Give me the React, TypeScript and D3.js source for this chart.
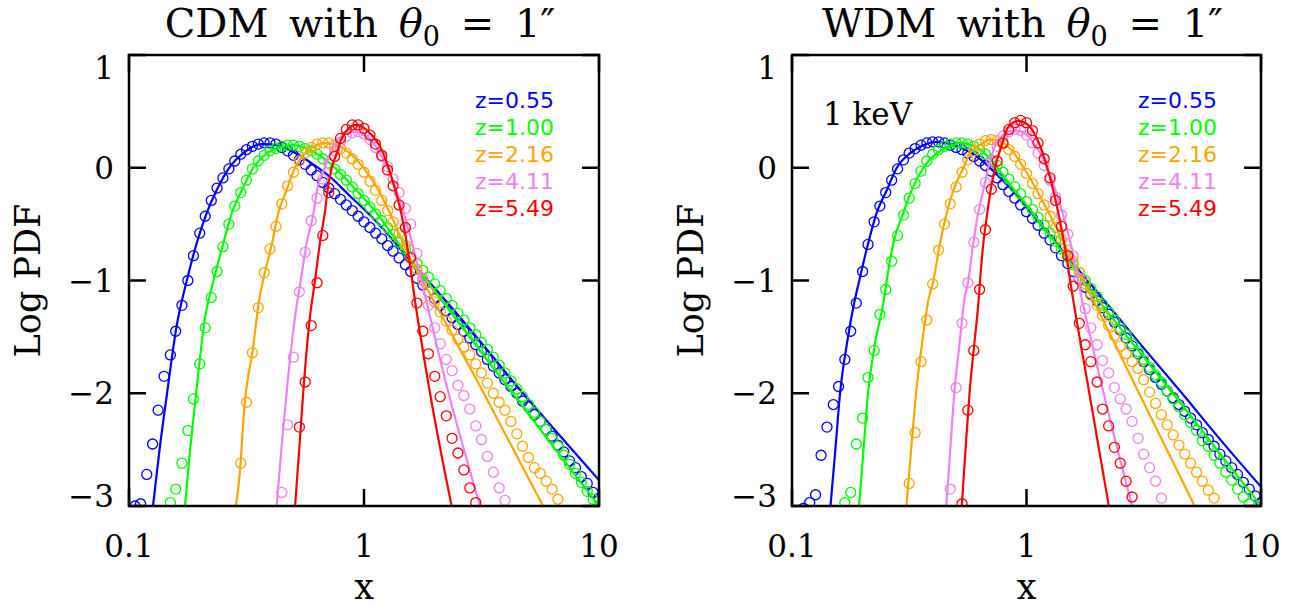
import React from 'react';
import * as d3 from 'd3';

// ---------- shared grid of x positions for the measured points ----------
const circleX = [0.1, 0.106, 0.112, 0.119, 0.126, 0.133, 0.141, 0.15, 0.158, 0.168, 0.178, 0.188, 0.2, 0.211, 0.224, 0.237, 0.251, 0.266, 0.282, 0.299, 0.316, 0.335, 0.355, 0.376, 0.398, 0.422, 0.447, 0.473, 0.501, 0.531, 0.562, 0.596, 0.631, 0.668, 0.708, 0.75, 0.794, 0.841, 0.891, 0.944, 1.0, 1.06, 1.12, 1.19, 1.26, 1.33, 1.41, 1.5, 1.58, 1.68, 1.78, 1.88, 2.0, 2.11, 2.24, 2.37, 2.51, 2.66, 2.82, 2.99, 3.16, 3.35, 3.55, 3.76, 3.98, 4.22, 4.47, 4.73, 5.01, 5.31, 5.62, 5.96, 6.31, 6.68, 7.08, 7.5, 7.94, 8.41, 8.91, 9.44, 10.0];

const zLabels = ['z=0.55', 'z=1.00', 'z=2.16', 'z=4.11', 'z=5.49'];
const seriesColors = ['#0000ff', '#00ff00', '#ffa500', '#ee82ee', '#ff0000'];
const xTicks = [0.1, 1, 10];
const xTickLabels = ['0.1', '1', '10'];
const yTicks = [1, 0, -1, -2, -3];
const yTickLabels = ['1', '0', '\u22121', '\u22122', '\u22123'];

// ---------- CDM: measured points (first = index into circleX) ----------
const cdmDots055 = { first: 1, y: [-3.0, -2.98, -2.72, -2.45, -2.15, -1.85, -1.66, -1.45, -1.22, -1.0, -0.78, -0.58, -0.43, -0.29, -0.18, -0.09, -0.01, 0.06, 0.12, 0.16, 0.19, 0.21, 0.22, 0.22, 0.21, 0.18, 0.15, 0.11, 0.07, 0.03, -0.02, -0.07, -0.13, -0.18, -0.23, -0.28, -0.33, -0.38, -0.43, -0.48, -0.53, -0.58, -0.63, -0.69, -0.74, -0.8, -0.86, -0.92, -0.98, -1.04, -1.1, -1.16, -1.22, -1.27, -1.33, -1.39, -1.45, -1.51, -1.57, -1.63, -1.7, -1.76, -1.82, -1.88, -1.94, -2.0, -2.07, -2.12, -2.19, -2.25, -2.32, -2.38, -2.46, -2.52, -2.6, -2.66, -2.74, -2.8, -2.88, -2.93] };
const cdmDots100 = { first: 7, y: [-2.97, -2.85, -2.62, -2.33, -2.05, -1.74, -1.42, -1.15, -0.92, -0.7, -0.5, -0.34, -0.22, -0.11, -0.01, 0.06, 0.11, 0.15, 0.17, 0.19, 0.2, 0.2, 0.19, 0.17, 0.15, 0.12, 0.08, 0.04, -0.01, -0.06, -0.11, -0.17, -0.23, -0.29, -0.35, -0.41, -0.47, -0.53, -0.59, -0.66, -0.72, -0.79, -0.85, -0.91, -0.97, -1.03, -1.09, -1.16, -1.22, -1.29, -1.35, -1.42, -1.48, -1.55, -1.61, -1.68, -1.75, -1.82, -1.89, -1.96, -2.03, -2.1, -2.17, -2.25, -2.32, -2.4, -2.47, -2.55, -2.63, -2.71, -2.79, -2.87, -2.94, -3.0] };
const cdmDots216 = { first: 19, y: [-2.62, -2.08, -1.64, -1.24, -0.93, -0.72, -0.52, -0.32, -0.16, -0.04, 0.06, 0.13, 0.18, 0.21, 0.22, 0.22, 0.2, 0.17, 0.13, 0.08, 0.03, -0.04, -0.12, -0.2, -0.29, -0.38, -0.48, -0.58, -0.69, -0.8, -0.9, -1.0, -1.1, -1.19, -1.28, -1.36, -1.44, -1.52, -1.59, -1.66, -1.74, -1.82, -1.91, -2.0, -2.08, -2.15, -2.25, -2.36, -2.47, -2.57, -2.66, -2.71, -2.78, -2.85, -2.94] };
const cdmDots411 = { first: 26, y: [-2.88, -2.28, -1.68, -1.1, -0.75, -0.47, -0.27, -0.1, 0.04, 0.15, 0.23, 0.28, 0.31, 0.32, 0.3, 0.25, 0.18, 0.1, 0.01, -0.1, -0.22, -0.36, -0.5, -0.76, -0.98, -1.22, -1.42, -1.56, -1.7, -1.8, -1.93, -2.02, -2.14, -2.29, -2.41, -2.56, -2.7, -2.84, -2.95] };
const cdmDots549 = { first: 29, y: [-2.3, -1.9, -1.4, -1.02, -0.6, -0.22, 0.1, 0.26, 0.34, 0.38, 0.38, 0.35, 0.29, 0.21, 0.11, -0.02, -0.16, -0.33, -0.53, -0.8, -1.2, -1.45, -1.65, -1.85, -2.03, -2.2, -2.4, -2.53, -2.68, -2.84, -2.97] };

// ---------- CDM: model curves [x, log PDF] ----------
const cdmLine055 = [[0.1265, -3], [0.1349, -2.5], [0.1452, -2], [0.1596, -1.4], [0.1762, -1.0], [0.1941, -0.67], [0.2143, -0.4], [0.236, -0.2], [0.2692, 0.01], [0.3062, 0.13], [0.3673, 0.21], [0.4256, 0.2], [0.5, 0.14], [0.5888, 0.05], [0.7161, -0.08], [0.871, -0.25], [1.0965, -0.45], [1.585, -0.83], [2.477, -1.29], [4.753, -2.0], [10, -2.77]];
const cdmLine100 = [[0.173, -3], [0.182, -2.5], [0.193, -2], [0.211, -1.32], [0.229, -1.0], [0.252, -0.67], [0.274, -0.4], [0.302, -0.2], [0.338, 0.0], [0.386, 0.128], [0.453, 0.187], [0.501, 0.2], [0.589, 0.157], [0.716, 0.04], [0.9, -0.17], [1.13, -0.4], [1.38, -0.65], [2.042, -1.12], [4.467, -2.05], [10, -3.0]];
const cdmLine216 = [[0.285, -3], [0.296, -2.71], [0.309, -2.15], [0.314, -2.0], [0.336, -1.62], [0.358, -1.17], [0.372, -1.0], [0.406, -0.67], [0.432, -0.4], [0.468, -0.2], [0.509, 0], [0.561, 0.128], [0.628, 0.2], [0.67, 0.22], [0.791, 0.187], [0.959, 0.04], [1.13, -0.17], [1.309, -0.43], [1.489, -0.7], [1.968, -1.17], [3.236, -2.0], [5.781, -3.0]];
const cdmLine411 = [[0.425, -3], [0.447, -2.45], [0.468, -2], [0.509, -1.32], [0.538, -1.0], [0.57, -0.67], [0.61, -0.4], [0.631, -0.2], [0.681, 0], [0.729, 0.16], [0.791, 0.26], [0.9, 0.32], [1.0, 0.29], [1.096, 0.22], [1.25, 0.01], [1.422, -0.29], [1.57, -0.6], [1.778, -1.05], [2.239, -1.92], [3.119, -3.0]];
const cdmLine549 = [[0.509, -3], [0.53, -2.5], [0.551, -2], [0.589, -1.32], [0.619, -1.0], [0.649, -0.67], [0.681, -0.4], [0.7, -0.2], [0.729, 0], [0.766, 0.128], [0.8, 0.25], [0.859, 0.35], [0.92, 0.38], [1.026, 0.335], [1.208, 0.128], [1.334, -0.14], [1.469, -0.49], [1.549, -0.78], [1.622, -1.08], [1.91, -2.0], [2.36, -3.0]];

// ---------- WDM (1 keV): measured points ----------
const wdmDots055 = { first: 2, y: [-3.02, -2.97, -2.9, -2.55, -2.3, -2.1, -1.94, -1.7, -1.45, -1.2, -0.92, -0.68, -0.48, -0.34, -0.22, -0.11, -0.01, 0.07, 0.13, 0.17, 0.2, 0.22, 0.23, 0.23, 0.22, 0.2, 0.18, 0.16, 0.13, 0.1, 0.06, 0.02, -0.03, -0.09, -0.15, -0.21, -0.27, -0.33, -0.39, -0.45, -0.51, -0.58, -0.64, -0.71, -0.78, -0.85, -0.92, -0.99, -1.06, -1.12, -1.18, -1.24, -1.3, -1.37, -1.44, -1.51, -1.58, -1.65, -1.72, -1.79, -1.86, -1.92, -1.98, -2.04, -2.1, -2.16, -2.22, -2.28, -2.35, -2.41, -2.47, -2.54, -2.6, -2.66, -2.72, -2.79, -2.85, -2.91, -2.97] };
const wdmDots100 = { first: 9, y: [-2.97, -2.88, -2.45, -2.22, -1.86, -1.62, -1.3, -1.08, -0.83, -0.6, -0.42, -0.27, -0.14, -0.03, 0.06, 0.12, 0.16, 0.19, 0.21, 0.22, 0.22, 0.21, 0.19, 0.16, 0.12, 0.07, 0.02, -0.04, -0.1, -0.17, -0.23, -0.3, -0.37, -0.44, -0.51, -0.58, -0.65, -0.72, -0.79, -0.86, -0.93, -1.0, -1.07, -1.14, -1.21, -1.28, -1.35, -1.42, -1.48, -1.56, -1.63, -1.7, -1.77, -1.84, -1.9, -1.98, -2.05, -2.12, -2.19, -2.26, -2.33, -2.42, -2.47, -2.55, -2.62, -2.7, -2.77, -2.85, -2.92, -2.98] };
const wdmDots216 = { first: 20, y: [-2.8, -2.35, -1.72, -1.35, -1.03, -0.73, -0.5, -0.32, -0.17, -0.04, 0.07, 0.15, 0.21, 0.24, 0.25, 0.24, 0.21, 0.16, 0.1, 0.03, -0.05, -0.14, -0.23, -0.33, -0.43, -0.53, -0.63, -0.73, -0.83, -0.93, -1.03, -1.13, -1.22, -1.31, -1.4, -1.49, -1.58, -1.65, -1.72, -1.78, -1.88, -1.99, -2.09, -2.19, -2.28, -2.37, -2.46, -2.54, -2.62, -2.7, -2.78, -2.86, -2.93] };
const wdmDots411 = { first: 27, y: [-2.85, -1.95, -1.38, -1.02, -0.66, -0.37, -0.13, 0.06, 0.19, 0.28, 0.32, 0.34, 0.33, 0.29, 0.22, 0.13, 0.02, -0.11, -0.26, -0.42, -0.59, -0.78, -0.98, -1.25, -1.42, -1.57, -1.71, -1.82, -1.95, -2.05, -2.14, -2.25, -2.4, -2.54, -2.66, -2.78, -2.93] };
const wdmDots549 = { first: 29, y: [-2.98, -2.15, -1.62, -1.08, -0.55, -0.19, 0.06, 0.22, 0.34, 0.4, 0.42, 0.4, 0.33, 0.22, 0.08, -0.09, -0.29, -0.52, -0.78, -1.05, -1.38, -1.57, -1.72, -1.9, -2.14, -2.29, -2.48, -2.62, -2.78, -2.92] };

// ---------- WDM (1 keV): model curves ----------
const wdmLine055 = [[0.1459, -3], [0.1531, -2.5], [0.1603, -2], [0.1718, -1.55], [0.1841, -1.2], [0.1936, -1.0], [0.2113, -0.67], [0.2296, -0.4], [0.2535, -0.2], [0.2799, 0], [0.3184, 0.128], [0.3631, 0.2], [0.414, 0.23], [0.5035, 0.19], [0.6138, 0.1], [0.7228, -0.03], [0.8511, -0.18], [1.0, -0.35], [1.259, -0.6], [1.585, -0.85], [2.133, -1.17], [3.162, -1.6], [4.603, -2.0], [6.761, -2.42], [10, -2.83]];
const wdmLine100 = [[0.1932, -3], [0.2018, -2.5], [0.2109, -2], [0.2265, -1.55], [0.2466, -1.17], [0.2535, -1.0], [0.2704, -0.67], [0.2985, -0.4], [0.3236, -0.2], [0.3631, 0], [0.414, 0.128], [0.4721, 0.19], [0.52, 0.22], [0.6339, 0.16], [0.7464, 0.01], [0.8511, -0.15], [1.0, -0.33], [1.259, -0.6], [1.585, -0.88], [1.982, -1.15], [3.162, -1.68], [5.012, -2.2], [7.079, -2.6], [10, -3.0]];
const wdmLine216 = [[0.3076, -3], [0.3221, -2.5], [0.3381, -2], [0.3589, -1.55], [0.3819, -1.17], [0.4009, -1.0], [0.4276, -0.67], [0.4571, -0.4], [0.4875, -0.2], [0.5383, 0], [0.5741, 0.128], [0.6339, 0.2], [0.6918, 0.25], [0.7586, 0.24], [0.8511, 0.17], [1.0, -0.04], [1.259, -0.42], [1.585, -0.84], [1.919, -1.17], [3.02, -2.0], [5.212, -3.0]];
const wdmLine411 = [[0.455, -3], [0.4732, -2.5], [0.492, -2], [0.5188, -1.55], [0.5433, -1.17], [0.5649, -1.0], [0.5929, -0.67], [0.6223, -0.4], [0.6546, -0.2], [0.6871, 0], [0.7211, 0.15], [0.7834, 0.28], [0.871, 0.33], [0.955, 0.32], [1.0715, 0.22], [1.2023, 0.04], [1.349, -0.24], [1.5136, -0.6], [1.7258, -1.17], [2.133, -2.0], [2.8184, -3.0]];
const wdmLine549 = [[0.5297, -3], [0.5495, -2.5], [0.5715, -2], [0.5998, -1.55], [0.6252, -1.17], [0.6339, -1.0], [0.6546, -0.67], [0.6808, -0.4], [0.7031, -0.2], [0.7345, 0], [0.7834, 0.2], [0.8356, 0.36], [0.9226, 0.415], [1.0, 0.39], [1.0965, 0.28], [1.2023, 0.06], [1.3183, -0.25], [1.4454, -0.66], [1.5812, -1.17], [1.8535, -2.0], [2.2439, -3.0]];

const cdmDots = [cdmDots055, cdmDots100, cdmDots216, cdmDots411, cdmDots549];
const cdmLines = [cdmLine055, cdmLine100, cdmLine216, cdmLine411, cdmLine549];
const wdmDots = [wdmDots055, wdmDots100, wdmDots216, wdmDots411, wdmDots549];
const wdmLines = [wdmLine055, wdmLine100, wdmLine216, wdmLine411, wdmLine549];

const TOP = 55;
const BOTTOM = 506;
const SERIF = '"DejaVu Serif", serif';
const SANS = '"DejaVu Sans", sans-serif';

type Dots = { first: number; y: number[] };

function Panel(props: { id: string; x0: number; x1: number; model: string; dots: Dots[]; lines: number[][][]; note?: string }) {
  const { id, x0, x1, model, dots, lines, note } = props;
  const x = d3.scaleLog().domain([0.1, 10]).range([x0, x1]);
  const y = d3.scaleLinear().domain([-3, 1]).range([BOTTOM, TOP]);
  const line = d3
    .line<number[]>()
    .x((d) => x(d[0]))
    .y((d) => y(d[1]))
    .curve(d3.curveMonotoneX);
  const tickLen = 17;
  const cx = (x0 + x1) / 2;
  return (
    <g>
      <defs>
        <clipPath id={id}>
          <rect x={x0} y={TOP} width={x1 - x0} height={BOTTOM - TOP} />
        </clipPath>
      </defs>
      <g clipPath={`url(#${id})`}>
        {dots.map((s, k) => (
          <g key={k}>
            {s.y.map((v, j) => (
              <circle key={j} cx={x(circleX[s.first + j])} cy={y(v)} r={5} fill="none" stroke={seriesColors[k]} strokeWidth={1.3} />
            ))}
            <path d={line(lines[k]) || ''} fill="none" stroke={seriesColors[k]} strokeWidth={2.2} />
          </g>
        ))}
      </g>
      {/* frame */}
      <rect x={x0} y={TOP} width={x1 - x0} height={BOTTOM - TOP} fill="none" stroke="#000" strokeWidth={2.5} />
      {yTicks.map((t) => (
        <g key={'yt' + t}>
          <line x1={x0} x2={x0 + tickLen} y1={y(t)} y2={y(t)} stroke="#000" strokeWidth={2.5} />
          <line x1={x1} x2={x1 - tickLen} y1={y(t)} y2={y(t)} stroke="#000" strokeWidth={2.5} />
        </g>
      ))}
      {xTicks.map((t) => (
        <g key={'xt' + t}>
          <line x1={x(t)} x2={x(t)} y1={BOTTOM} y2={BOTTOM - tickLen} stroke="#000" strokeWidth={2.5} />
          <line x1={x(t)} x2={x(t)} y1={TOP} y2={TOP + tickLen} stroke="#000" strokeWidth={2.5} />
        </g>
      ))}
      {/* tick labels */}
      {yTicks.map((t, i) => {
        let by = y(t) + 11;
        if (t === 1) by = TOP + 24;
        if (t === -3) by = BOTTOM + 1;
        return (
          <text key={'yl' + t} x={x0 - 15} y={by} textAnchor="end" fontFamily={SERIF} fontSize={31}>
            {yTickLabels[i]}
          </text>
        );
      })}
      {xTicks.map((t, i) => (
        <text key={'xl' + t} x={x(t)} y={557} textAnchor="middle" fontFamily={SERIF} fontSize={31}>
          {xTickLabels[i]}
        </text>
      ))}
      {/* axis titles */}
      <text x={cx} y={599} textAnchor="middle" fontFamily={SERIF} fontSize={35}>
        x
      </text>
      <text transform={`translate(${x0 - 89},${(TOP + BOTTOM) / 2}) rotate(-90)`} textAnchor="middle" fontFamily={SERIF} fontSize={35}>
        Log PDF
      </text>
      {/* title */}
      <text x={cx - 4} y={37} textAnchor="middle" fontFamily={SERIF} fontSize={40} wordSpacing={8}>
        <tspan>{model} with </tspan>
        <tspan fontStyle="italic">θ</tspan>
        <tspan fontSize={27} dy={9}>0</tspan>
        <tspan dy={-9}> = 1″</tspan>
      </text>
      {/* legend */}
      {zLabels.map((z, k) => (
        <text key={z} x={x0 + 346} y={108 + 27 * k} fontFamily={SANS} fontSize={22} fill={seriesColors[k]}>
          {z}
        </text>
      ))}
      {note ? (
        <text x={x0 + 31} y={125} fontFamily={SERIF} fontSize={31}>
          {note}
        </text>
      ) : null}
    </g>
  );
}

export default function App() {
  return (
    <svg width={1296} height={607} style={{ position: 'absolute', left: 0, top: 0, background: '#fff' }}>
      <rect x={0} y={0} width={1296} height={607} fill="#fff" />
      <Panel id="clipCdm" x0={129} x1={599} model="CDM" dots={cdmDots} lines={cdmLines} />
      <Panel id="clipWdm" x0={792} x1={1261} model="WDM" dots={wdmDots} lines={wdmLines} note="1 keV" />
    </svg>
  );
}
